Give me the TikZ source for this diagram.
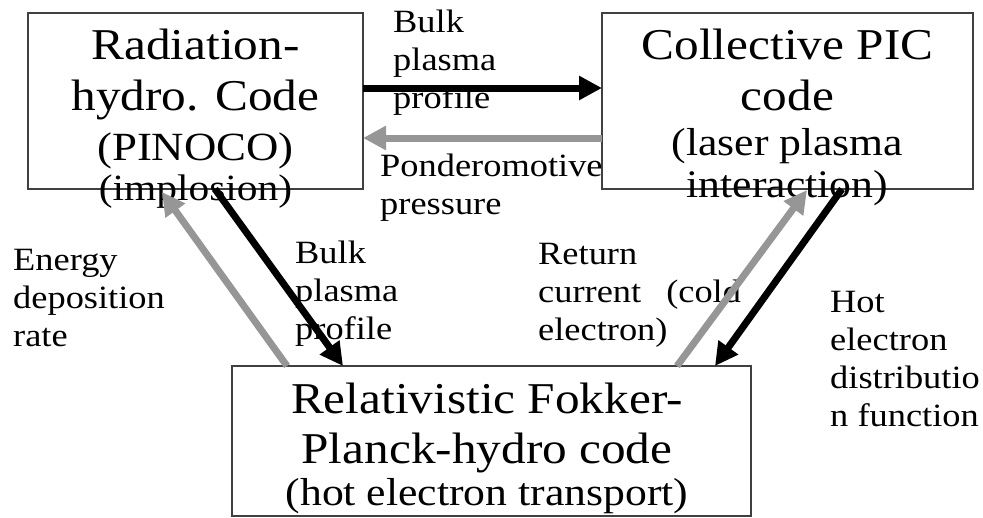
\documentclass[tikz,border=0pt]{standalone}
\usepackage{fontspec}
\setmainfont{Liberation Serif}[FakeStretch=1.12]
\usetikzlibrary{arrows.meta}
\definecolor{flowgray}{RGB}{150,150,150}
\definecolor{framegray}{RGB}{64,64,64}
\begin{document}
\begin{tikzpicture}[x=1pt,y=-1pt,
  codebox/.style={draw=framegray, line width=2.5pt, inner sep=0pt, outer sep=0pt},
  maintxt/.style={font=\fontsize{44}{50}\selectfont, inner sep=0pt, anchor=base},
  subtxt/.style={font=\fontsize{39}{44}\selectfont, inner sep=0pt, anchor=base},
  % multi-line labels: the base anchor sits on the last line
  lbl/.style={font=\fontsize{32.5}{38}\selectfont, inner sep=0pt, anchor=base west, align=left},
  flow/.style={line width=7pt, -{Triangle[length=23pt,width=23pt]}},
  dark/.style={flow, draw=black},
  light/.style={flow, draw=flowgray},
]
\useasboundingbox (0,0) rectangle (983,517);

% the three code boxes
\node[codebox, minimum width=335pt, minimum height=176pt] (A) at (195.5,101) {};
\node[codebox, minimum width=371pt, minimum height=176pt] (B) at (787.5,101) {};
\node[codebox, minimum width=519pt, minimum height=150pt] (C) at (491.5,441) {};

% box titles
\node[maintxt] (A1) at (195.5,59) {Radiation-};
\node[maintxt] (A2) at (195.5,110) {hydro. Code};
\node[maintxt, font=\fontsize{40}{46}\selectfont] (A3) at (195.5,160) {(PINOCO)};
\node[maintxt, font=\fontsize{37}{42}\selectfont] (A4) at (195.5,200) {(implosion)};

\node[maintxt] (B1) at (787.5,59) {Collective PIC};
\node[maintxt] (B2) at (787.5,110) {code};
\node[subtxt] (B3) at (787.5,155) {(laser plasma};
\node[subtxt] (B4) at (787.5,197) {interaction)};

\node[maintxt] (C1) at (487,413) {Relativistic Fokker-};
\node[maintxt] (C2) at (487,463) {Planck-hydro code};
\node[subtxt] (C3) at (487,505) {(hot electron transport)};

% connector labels
\node[lbl] (l1) at (393,108) {Bulk\\plasma\\profile};
\node[lbl] (l2) at (380,214) {Ponderomotive\\pressure};
\node[lbl] (l3) at (13,346) {Energy\\deposition\\rate};
\node[lbl] (l4) at (295,339) {Bulk\\plasma\\profile};
\node[lbl] (l5) at (538,340) {Return\\current\hspace{25pt}(cold\\electron)};
\node[lbl] (l6) at (830,426) {Hot\\electron\\distributio\\n function};

% data flow between the codes
\draw[dark]  ([yshift=13pt]A.east) -- ([yshift=13pt]B.west);
\draw[light] ([yshift=-37pt]B.west) -- ([yshift=-37pt]A.east);
\draw[dark]  ([xshift=19.5pt]A.south) -- ([xshift=-148.5pt]C.north);
\draw[light] ([xshift=-204.5pt]C.north) -- ([xshift=-33.5pt,yshift=-3pt]A.south);
\draw[light] ([xshift=185.5pt]C.north) -- ([xshift=19.5pt,yshift=-1pt]B.south);
\draw[dark]  ([xshift=54.5pt]B.south) -- ([xshift=223.5pt]C.north);
\end{tikzpicture}
\end{document}
